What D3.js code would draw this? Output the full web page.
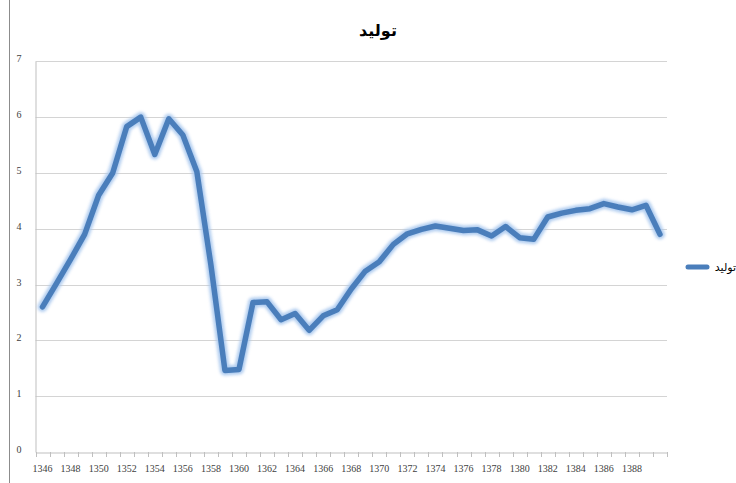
<!DOCTYPE html>
<html><head><meta charset="utf-8">
<script src="https://cdn.jsdelivr.net/npm/d3@7/dist/d3.min.js"></script>
<style>
html,body{margin:0;padding:0;background:#fff;}
svg{display:block;}
</style></head>
<body>
<svg id="c" width="736" height="483"></svg>
<script>
const title = "تولید";
const seriesName = "تولید";
const years = [1346,1347,1348,1349,1350,1351,1352,1353,1354,1355,1356,1357,1358,1359,1360,1361,1362,1363,1364,1365,1366,1367,1368,1369,1370,1371,1372,1373,1374,1375,1376,1377,1378,1379,1380,1381,1382,1383,1384,1385,1386,1387,1388,1389,1390];
const values = [2.6,3.02,3.45,3.9,4.6,5.0,5.83,6.0,5.33,5.97,5.68,5.02,3.35,1.46,1.48,2.68,2.69,2.37,2.48,2.18,2.44,2.55,2.92,3.24,3.41,3.72,3.91,3.99,4.05,4.01,3.97,3.98,3.87,4.04,3.84,3.81,4.21,4.28,4.33,4.36,4.45,4.39,4.34,4.42,3.9];
const xTickLabels = [1346,1348,1350,1352,1354,1356,1358,1360,1362,1364,1366,1368,1370,1372,1374,1376,1378,1380,1382,1384,1386,1388];
const yTicks = [0,1,2,3,4,5,6,7];

const svg = d3.select("#c");
const L = 35.5, R = 667, T = 61.3, B = 452;
const numFont = "'Liberation Serif', serif";

const x = d3.scaleBand().domain(years).range([L, R]).padding(0);
const y = d3.scaleLinear().domain([0, 7]).range([B, T]);

// outer frame line on left
svg.append("line").attr("x1", 9.5).attr("x2", 9.5).attr("y1", 0).attr("y2", 483)
  .attr("stroke", "#8c8c8c").attr("stroke-width", 1);

// title
svg.append("text").attr("x", 378).attr("y", 36).attr("text-anchor", "middle")
  .attr("font-family", "'DejaVu Sans', sans-serif").attr("font-weight", "bold")
  .attr("font-size", 16).attr("fill", "#000").text(title);

// gridlines
svg.append("g").selectAll("line").data(yTicks.filter(d => d > 0)).join("line")
  .attr("x1", L).attr("x2", R)
  .attr("y1", d => Math.round(y(d)) + 0.5).attr("y2", d => Math.round(y(d)) + 0.5)
  .attr("stroke", "#d4d4d4").attr("stroke-width", 1);

// y axis
const yAxis = svg.append("g").attr("transform", `translate(${L},0)`)
  .call(d3.axisLeft(y).tickValues(yTicks).tickSize(0).tickPadding(14).tickFormat(d3.format("d")));
yAxis.select(".domain").attr("stroke", "#bfbfbf");
yAxis.selectAll("text").attr("font-family", numFont).attr("font-size", 10)
  .attr("fill", "#404040").attr("dy", "0.05em");

// x axis
const xAxis = svg.append("g").attr("transform", `translate(0,${Math.round(B) + 0.5})`)
  .call(d3.axisBottom(x).tickValues(xTickLabels).tickSize(0).tickPadding(12).tickFormat(d3.format("d")));
xAxis.select(".domain").attr("stroke", "#bfbfbf");
xAxis.selectAll("text").attr("font-family", numFont).attr("font-size", 10).attr("fill", "#404040");
// category boundary tick marks
const bounds = years.map(d => x(d)).concat([x(years[years.length - 1]) + x.bandwidth()]);
svg.append("g").selectAll("line").data(bounds).join("line")
  .attr("x1", d => Math.round(d) + 0.5).attr("x2", d => Math.round(d) + 0.5)
  .attr("y1", Math.round(B)).attr("y2", Math.round(B) + 5)
  .attr("stroke", "#bfbfbf").attr("stroke-width", 1);

// glow filter
const defs = svg.append("defs");
const f = defs.append("filter").attr("id", "glow").attr("x", "-10%").attr("y", "-10%").attr("width", "120%").attr("height", "120%");
f.append("feGaussianBlur").attr("stdDeviation", 1.6);

const line = d3.line().x(d => x(d.year) + x.bandwidth() / 2).y(d => y(d.value));
const pts = years.map((yr, i) => ({ year: yr, value: values[i] }));

svg.append("path").datum(pts).attr("d", line).attr("fill", "none")
  .attr("stroke", "#a9c8ee").attr("stroke-width", 10).attr("stroke-linejoin", "round")
  .attr("stroke-linecap", "round").attr("filter", "url(#glow)").attr("opacity", 0.9);
svg.append("path").datum(pts).attr("d", line).attr("fill", "none")
  .attr("stroke", "#4a7ebb").attr("stroke-width", 5.5).attr("stroke-linejoin", "round")
  .attr("stroke-linecap", "round");

// legend
const lg = svg.append("g");
lg.append("line").attr("x1", 688).attr("x2", 707).attr("y1", 267).attr("y2", 267)
  .attr("stroke", "#a9c8ee").attr("stroke-width", 8).attr("stroke-linecap", "round").attr("filter", "url(#glow)");
lg.append("line").attr("x1", 688).attr("x2", 707).attr("y1", 267).attr("y2", 267)
  .attr("stroke", "#4a7ebb").attr("stroke-width", 5).attr("stroke-linecap", "round");
lg.append("text").attr("x", 736).attr("y", 271).attr("text-anchor", "end")
  .attr("font-family", "'DejaVu Sans', sans-serif").attr("font-size", 11).attr("fill", "#000")
  .text(seriesName);
</script>
</body></html>
